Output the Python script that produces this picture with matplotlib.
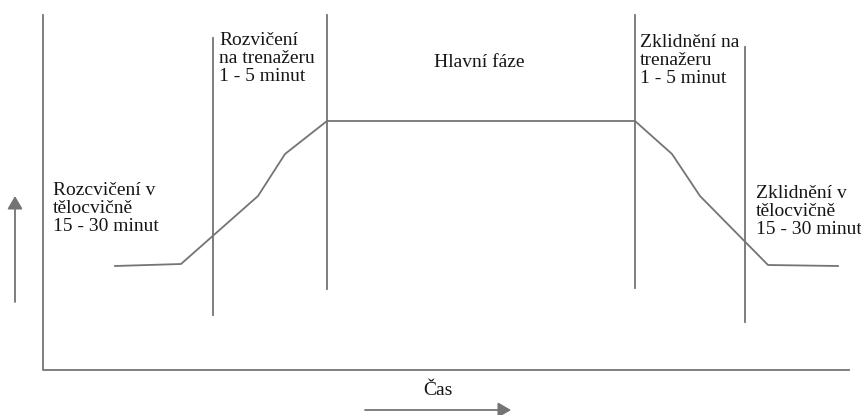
import matplotlib
matplotlib.use("Agg")
import matplotlib.pyplot as plt

# curve of load intensity over time (diagram units: x right, y down)
curve_t = [115, 181, 258, 285, 327, 635, 672, 700, 768, 838]
curve_y = [266, 264, 196, 154, 121, 121, 154, 196, 265, 266]

# vertical phase boundaries
phase_x = [213, 327, 635, 745]
phase_top = [38, 15, 15, 47]
phase_bottom = [315, 289, 288, 322]

# phase labels (one list of lines per label)
phase_labels = [
    ["Rozcvičení v", "tělocvičně", "15 - 30 minut"],
    ["Rozvičení", "na trenažeru", "1 - 5 minut"],
    ["Hlavní fáze"],
    ["Zklidnění na", "trenažeru", "1 - 5 minut"],
    ["Zklidnění v", "tělocvičně", "15 - 30 minut"],
]
label_x = [53, 219, 434, 640, 756]
label_base = [195, 45, 67, 47, 198]
LINE_STEP = 18

time_label = "Čas"

LINE = "#747474"
TEXT = "#161616"
ARROW = dict(arrowstyle="-|>,head_length=0.6,head_width=0.35", color=LINE,
             lw=1.3, mutation_scale=13, shrinkA=0, shrinkB=0)

fig = plt.figure(figsize=(8.62, 4.15), dpi=100)
ax = fig.add_axes([0, 0, 1, 1])
ax.set_xlim(0, 862)
ax.set_ylim(415, 0)
ax.axis("off")

# frame axes
ax.plot([43, 43, 849], [15, 370, 370], color=LINE, lw=1.3)

for x, y0, y1 in zip(phase_x, phase_top, phase_bottom):
    ax.plot([x, x], [y0, y1], color=LINE, lw=1.3)

ax.plot(curve_t, curve_y, color=LINE, lw=1.3)

# direction arrows
ax.annotate("", xy=(15, 196), xytext=(15, 302), arrowprops=ARROW)
ax.annotate("", xy=(511, 410), xytext=(365, 410), arrowprops=ARROW)

for lines, x, y in zip(phase_labels, label_x, label_base):
    for i, line in enumerate(lines):
        ax.text(x, y + i * LINE_STEP, line, ha="left", va="baseline",
                fontsize=14, family="Liberation Serif", color=TEXT)

ax.text(423, 395, time_label, ha="left", va="baseline", fontsize=14,
        family="Liberation Serif", color=TEXT)

fig.savefig("out.png", dpi=100)
